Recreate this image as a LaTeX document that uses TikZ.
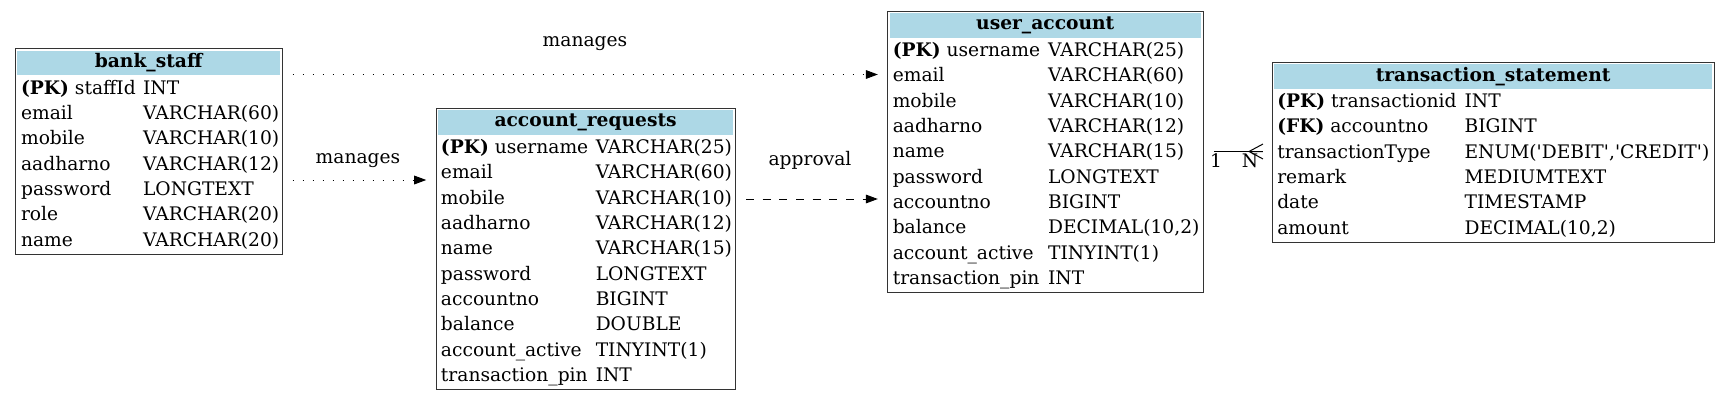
\documentclass[tikz,border=0pt]{standalone}
\usepackage{fontspec}
\setmainfont{DejaVu Serif}[Ligatures=TeXOff]
\usetikzlibrary{arrows.meta}
\definecolor{headblue}{RGB}{173,216,230}

\begin{document}
\begin{tikzpicture}
[x=0.75pt,y=-0.75pt,font=\fontsize{14pt}{17pt}\selectfont,
 tbl/.style={draw=black!80,line width=0.75pt,inner sep=0,anchor=north west},
 hdr/.style={fill=headblue,inner sep=0,anchor=north west,font=\fontsize{14pt}{17pt}\selectfont\bfseries},
 fld/.style={inner sep=0,anchor=base west},
 rel/.style={line width=0.75pt,shorten <=7.5pt,shorten >=7.1pt,-{Triangle[length=9pt,width=6.5pt]}},
 dots/.style={dash pattern=on 0.9pt off 6.6pt},
 dashes/.style={dash pattern=on 6pt off 6.5pt}]
\useasboundingbox (0,0) rectangle (1729,400);

\node[tbl,minimum width=200pt,minimum height=154.1pt] (staff) at (15,48.3) {};
\node[hdr,minimum width=197pt,minimum height=18.5pt] (staffhead) at (17,50.3) {bank\_staff};
\foreach \fname/\ftype [count=\i] in {{\textbf{(PK)} staffId}/INT,email/VARCHAR(60),mobile/VARCHAR(10),aadharno/VARCHAR(12),password/LONGTEXT,role/VARCHAR(20),name/VARCHAR(20)}
{
\node[fld] (staff\i) at (20.8,{94+25.35*(\i-1)}) {\fname};
\node[fld] (stafftype\i) at (142.8,{94+25.35*(\i-1)}) {\ftype};
}

\node[tbl,minimum width=224.5pt,minimum height=211.1pt] (req) at (435.7,107.7) {};
\node[hdr,minimum width=221.5pt,minimum height=18.5pt] (reqhead) at (437.7,109.7) {account\_requests};
\foreach \fname/\ftype [count=\i] in {{\textbf{(PK)} username}/VARCHAR(25),email/VARCHAR(60),mobile/VARCHAR(10),aadharno/VARCHAR(12),name/VARCHAR(15),password/LONGTEXT,accountno/BIGINT,balance/DOUBLE,account\_active/TINYINT(1),transaction\_pin/INT}
{
\node[fld] (req\i) at (440.7,{153.4+25.35*(\i-1)}) {\fname};
\node[fld] (reqtype\i) at (595.5,{153.4+25.35*(\i-1)}) {\ftype};
}

\node[tbl,minimum width=236.55pt,minimum height=211.1pt] (user) at (887.3,10.7) {};
\node[hdr,minimum width=233.55pt,minimum height=18.5pt] (userhead) at (889.3,12.7) {user\_account};
\foreach \fname/\ftype [count=\i] in {{\textbf{(PK)} username}/VARCHAR(25),email/VARCHAR(60),mobile/VARCHAR(10),aadharno/VARCHAR(12),name/VARCHAR(15),password/LONGTEXT,accountno/BIGINT,balance/{DECIMAL(10,2)},account\_active/TINYINT(1),transaction\_pin/INT}
{
\node[fld] (user\i) at (892.5,{56.4+25.35*(\i-1)}) {\fname};
\node[fld] (usertype\i) at (1047.8,{56.4+25.35*(\i-1)}) {\ftype};
}

\node[tbl,minimum width=331.4pt,minimum height=135.1pt] (trans) at (1271.9,61.8) {};
\node[hdr,minimum width=328.4pt,minimum height=18.5pt] (transhead) at (1273.9,63.8) {transaction\_statement};
\foreach \fname/\ftype [count=\i] in {{\textbf{(PK)} transactionid}/INT,{\textbf{(FK)} accountno}/BIGINT,transactionType/{ENUM('DEBIT','CREDIT')},remark/MEDIUMTEXT,date/TIMESTAMP,amount/{DECIMAL(10,2)}}
{
\node[fld] (trans\i) at (1277,{107.5+25.35*(\i-1)}) {\fname};
\node[fld] (transtype\i) at (1464.3,{107.5+25.35*(\i-1)}) {\ftype};
}

\coordinate (staffout1) at (staff.east |- 0,74.5);
\coordinate (userin1) at (user.west |- 0,74.5);
\coordinate (staffout2) at (staff.east |- 0,180);
\coordinate (reqin) at (req.west |- 0,180);
\coordinate (reqout) at (req.east |- 0,199);
\coordinate (userin2) at (user.west |- 0,199);
\coordinate (userout) at (user.east |- 0,151.5);
\coordinate (transin) at (trans.west |- 0,151.5);

\draw[rel,dots] (staffout1) -- (userin1);
\draw[rel,dots] (staffout2) -- (reqin);
\draw[rel,dashes] (reqout) -- (userin2);
\draw[line width=0.75pt,shorten <=7.7pt,shorten >=6.7pt] (userout) -- (transin);

\coordinate (crowtip) at ([xshift=-6.7pt]transin);
\coordinate (crowapex) at ([xshift=-17.2pt]transin);
\draw[line width=0.75pt] (crowapex) -- ([yshift=5.6pt]crowtip) (crowapex) -- (crowtip) (crowapex) -- ([yshift=-5.6pt]crowtip);

\node (manages1) at (585,44) {manages};
\node (manages2) at (358,160.7) {manages};
\node (approval) at (810,160) {approval};
\node[anchor=base] (one) at (1216,167.3) {1};
\node[anchor=base] (many) at (1250,167.3) {N};
\end{tikzpicture}
\end{document}
